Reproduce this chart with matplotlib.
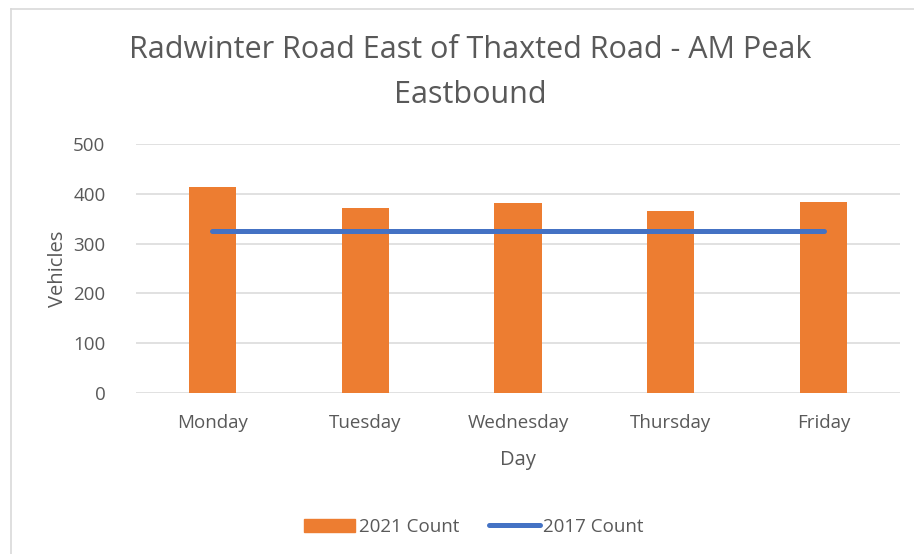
import numpy as np
import matplotlib
matplotlib.use('Agg')
import matplotlib.pyplot as plt
import matplotlib.patches as mpatches
from matplotlib.lines import Line2D

plt.rcParams['font.family'] = ['Open Sans', 'DejaVu Sans']

# data
days = ['Monday', 'Tuesday', 'Wednesday', 'Thursday', 'Friday']
count_2021 = [414, 371, 382, 365, 384]
count_2017 = [326, 326, 326, 326, 326]
yticks = [0, 100, 200, 300, 400, 500]

orange = '#ED7D31'
blue = '#4472C4'
grey_txt = '#595959'
grid_col = '#D9D9D9'

fig = plt.figure(figsize=(9.14, 5.54), dpi=100)
ax = fig.add_axes([0.1488, 0.2906, 0.8359, 0.4495])

x = np.arange(len(days))
ax.bar(x, count_2021, width=0.31, color=orange, zorder=2)
ax.plot(x, count_2017, color=blue, linewidth=3.6, solid_capstyle='round',
        zorder=3)

ax.set_xlim(-0.5, len(days) - 0.5)
ax.set_ylim(0, 500)
ax.set_yticks(yticks)
ax.set_xticks(x)
ax.set_xticklabels(days)
ax.tick_params(axis='both', length=0, labelsize=13.5, colors=grey_txt)
ax.tick_params(axis='x', pad=15)
ax.tick_params(axis='y', pad=22)
ax.yaxis.grid(True, color=grid_col, linewidth=1.1, zorder=0)
for s in ax.spines.values():
    s.set_visible(False)

ax.set_xlabel('Day', fontsize=14.5, color=grey_txt, va='center')
ax.xaxis.set_label_coords(0.5, (393 - 460) / 249.0)
ax.set_ylabel('Vehicles', fontsize=14.5, color=grey_txt, va='center')
ax.yaxis.set_label_coords(-0.102, 0.5)

fig.text(470 / 914, 1 - 72.5 / 554,
         'Radwinter Road East of Thaxted Road - AM Peak\nEastbound',
         ha='center', va='center', fontsize=22, color=grey_txt,
         linespacing=1.62)

handles = [mpatches.Patch(color=orange, label='2021 Count'),
           Line2D([], [], color=blue, linewidth=3.6, solid_capstyle='round',
                  label='2017 Count')]
fig.legend(handles=handles, loc='center', ncol=2, frameon=False,
           bbox_to_anchor=(474 / 914, 1 - 527 / 554), fontsize=13.5,
           labelcolor=grey_txt, handlelength=2.7, handletextpad=0.2,
           columnspacing=1.6)

# chart area border (top and left visible)
fig.add_artist(Line2D([11 / 914, 11 / 914], [0, 1 - 8.5 / 554],
                      color='#D9D9D9', linewidth=1.2))
fig.add_artist(Line2D([11 / 914, 1], [1 - 8.5 / 554, 1 - 8.5 / 554],
                      color='#D9D9D9', linewidth=1.2))

fig.savefig('out.png', dpi=100)
